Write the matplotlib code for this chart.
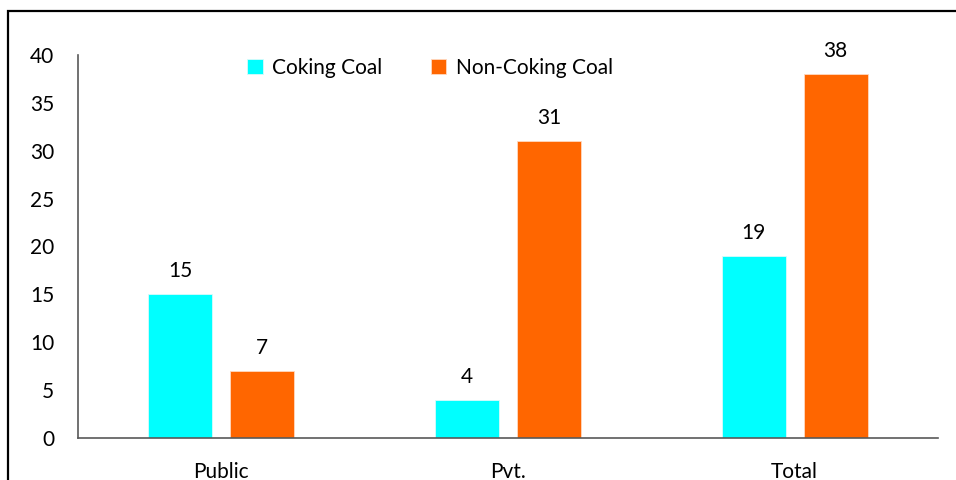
import matplotlib
matplotlib.use("Agg")
import matplotlib.pyplot as plt
from matplotlib.patches import Rectangle
import numpy as np

categories = ["Public", "Pvt.", "Total"]
coking = [15, 4, 19]
non_coking = [7, 31, 38]
series_names = ["Coking Coal", "Non-Coking Coal"]
y_ticks = [0, 5, 10, 15, 20, 25, 30, 35, 40]

plt.rcParams["font.family"] = ["Lato", "DejaVu Sans"]

W, H = 956, 480
fig = plt.figure(figsize=(W / 100, H / 100), dpi=100)
ax = fig.add_axes([78 / W, 1 - 438 / H, (938 - 78) / W, (438 - 55) / H])

x = np.arange(len(categories))
bw = 0.223
off = 0.143
c_cyan = "#00FFFF"
c_orange = "#FF6600"

b1 = ax.bar(x - off, coking, bw, color=c_cyan, edgecolor="#d8fbfb", linewidth=0.6, label=series_names[0])
b2 = ax.bar(x + off, non_coking, bw, color=c_orange, edgecolor="#ffd9c0", linewidth=0.6, label=series_names[1])

for bars, vals in ((b1, coking), (b2, non_coking)):
    for rect, v in zip(bars, vals):
        ax.annotate(f"{v}", (rect.get_x() + rect.get_width() / 2, v),
                    xytext=(0, 9.5), textcoords="offset points",
                    ha="center", va="bottom", fontsize=15, color="#000000")

ax.set_xlim(-0.5, 2.5)
ax.set_ylim(0, 40)
ax.set_yticks(y_ticks)
ax.set_xticks(x)
ax.set_xticklabels(categories)
ax.tick_params(axis="y", length=0, pad=17, labelsize=15)
ax.tick_params(axis="x", length=0, pad=17.5, labelsize=15)

for s in ("top", "right"):
    ax.spines[s].set_visible(False)
for s in ("left", "bottom"):
    ax.spines[s].set_color("#595959")
    ax.spines[s].set_linewidth(1.2)

leg = ax.legend(loc="center", bbox_to_anchor=(430 / W, 1 - 68 / H),
                bbox_transform=fig.transFigure, ncol=2, frameon=False,
                fontsize=15, handlelength=0.75, handleheight=0.75,
                handletextpad=0.45, columnspacing=2.3)

# outer frame around the chart area
fig.patches.append(Rectangle((7.5 / W, -0.1), 1.2, 1.1 - 11 / H,
                             transform=fig.transFigure, fill=False,
                             edgecolor="#000000", linewidth=1.6))

fig.savefig("out.png", dpi=100)
